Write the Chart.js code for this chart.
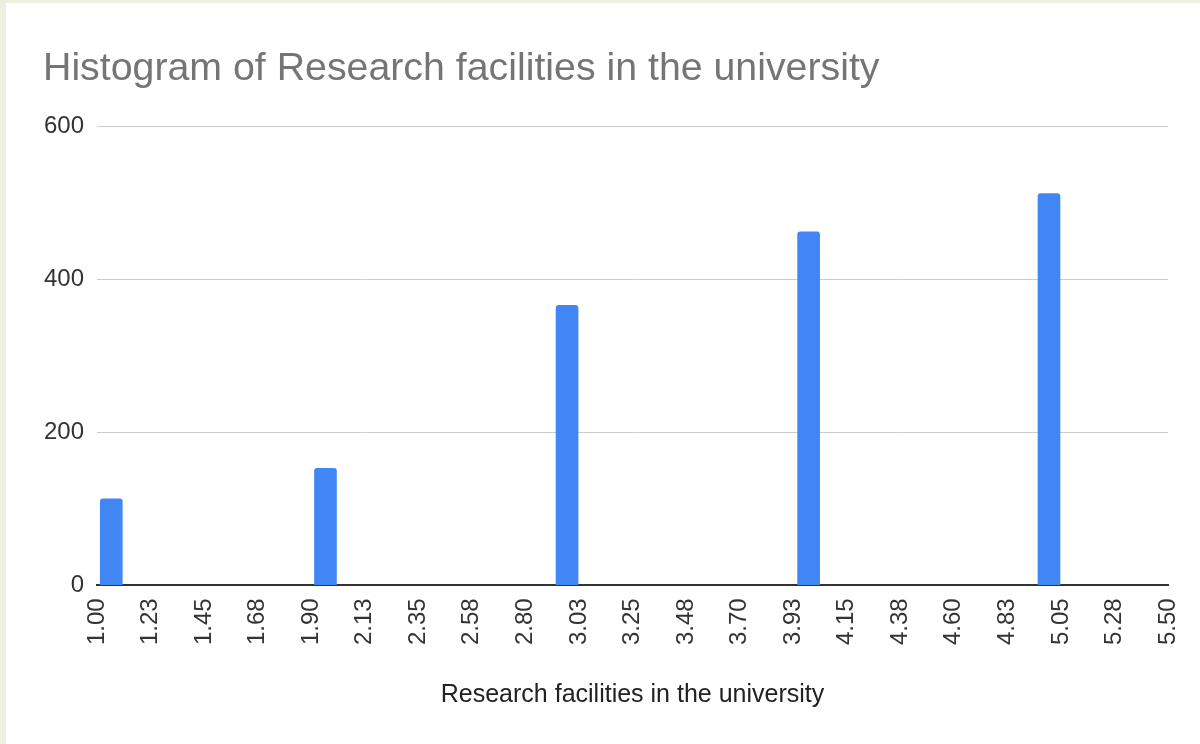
<!DOCTYPE html>
<html>
<head>
<meta charset="utf-8">
<script src="https://cdn.jsdelivr.net/npm/chart.js@4/dist/chart.umd.min.js"></script>
<style>
  html, body { margin: 0; padding: 0; background: #ebf1de; }
  #wrap { position: absolute; left: 6px; top: 3px; width: 1194px; height: 741px; background: #fff; }
</style>
</head>
<body>
<div id="wrap"><canvas id="histChart" width="1194" height="741"></canvas></div>
<script>
// histogram data
var binCenters = [1.06, 1.96, 2.975, 3.99, 5.0];
var counts = [113, 153, 366, 462, 512];
var tickLabels = ['1.00', '1.23', '1.45', '1.68', '1.90', '2.13', '2.35', '2.58', '2.80', '3.03',
                  '3.25', '3.48', '3.70', '3.93', '4.15', '4.38', '4.60', '4.83', '5.05', '5.28', '5.50'];
var yTicks = [0, 200, 400, 600];

var xMin = 1.0, xStep = 0.225;
var font = '"Liberation Sans", Arial, sans-serif';

var histData = {
    datasets: [{
        data: binCenters.map(function (c, i) { return { x: c, y: counts[i] }; }),
        backgroundColor: '#4285f4',
        barThickness: 22,
        borderRadius: { topLeft: 3, topRight: 3 },
        borderSkipped: 'bottom'
    }]
};

new Chart(document.getElementById('histChart').getContext('2d'), {
    type: 'bar',
    data: histData,
    options: {
        responsive: false,
        animation: false,
        layout: { padding: { left: 37, right: 32, top: 0, bottom: 34 } },
        plugins: {
            legend: { display: false },
            tooltip: { enabled: false },
            title: {
                display: true,
                text: 'Histogram of Research facilities in the university',
                align: 'start',
                color: '#757575',
                font: { family: font, size: 39.3, weight: 'normal' },
                padding: { top: 43, bottom: 33 }
            }
        },
        scales: {
            x: {
                type: 'linear',
                min: xMin,
                max: xMin + xStep * (tickLabels.length - 1),
                offset: false,
                afterBuildTicks: function (scale) {
                    scale.ticks = tickLabels.map(function (t, i) { return { value: xMin + i * xStep }; });
                },
                afterFit: function (scale) {
                    // rotated labels are thin, no edge padding needed
                    scale.paddingLeft = 0;
                    scale.paddingRight = 0;
                },
                ticks: {
                    autoSkip: false,
                    minRotation: 90,
                    maxRotation: 90,
                    padding: 13,
                    color: '#333',
                    font: { family: font, size: 24 },
                    callback: function (value, index) { return tickLabels[index]; }
                },
                grid: { display: false, drawTicks: false },
                border: { display: true, color: '#333', width: 2 },
                title: {
                    display: true,
                    text: 'Research facilities in the university',
                    color: '#222',
                    font: { family: font, size: 25 },
                    padding: { top: 22, bottom: 0 }
                }
            },
            y: {
                min: yTicks[0],
                max: yTicks[yTicks.length - 1],
                afterBuildTicks: function (scale) {
                    scale.ticks = yTicks.map(function (v) { return { value: v }; });
                },
                afterFit: function (scale) { scale.width = 54; },
                ticks: {
                    padding: 13,
                    color: '#333',
                    font: { family: font, size: 24 }
                },
                grid: { color: '#cccccc', lineWidth: 1, drawTicks: false },
                border: { display: false }
            }
        }
    }
});
</script>
</body>
</html>
